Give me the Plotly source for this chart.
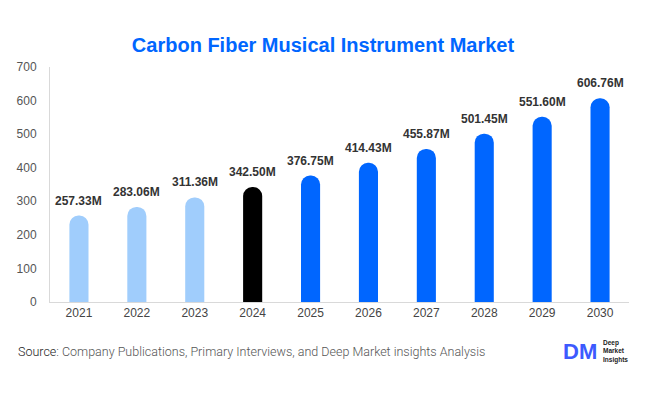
import plotly.graph_objects as go

years = ["2021", "2022", "2023", "2024", "2025", "2026", "2027", "2028", "2029", "2030"]
values = [257.33, 283.06, 311.36, 342.50, 376.75, 414.43, 455.87, 501.45, 551.60, 606.76]
labels = ["257.33M", "283.06M", "311.36M", "342.50M", "376.75M", "414.43M", "455.87M", "501.45M", "551.60M", "606.76M"]
colors = ["#a0cdfc"] * 3 + ["#000000"] + ["#0066ff"] * 6

fig = go.Figure()
fig.add_trace(go.Bar(x=years, y=values, marker=dict(color=colors, line=dict(width=0)),
                     width=0.33, hoverinfo="skip"))

for i, (v, t) in enumerate(zip(values, labels)):
    fig.add_annotation(x=i, y=v, text="<b>" + t + "</b>", showarrow=False,
                       yanchor="bottom", yshift=6,
                       font=dict(family="Liberation Sans, Arial", size=12, color="#333333"))

fig.add_annotation(xref="paper", yref="paper", x=-0.0587, y=0, yshift=-49, xanchor="left", yanchor="middle",
                   text="<span style='color:#222'>Source</span>: Company Publications, Primary Interviews, and Deep Market insights Analysis",
                   showarrow=False, font=dict(family="Roboto, Open Sans", size=12.5, color="#555555", weight=300))

fig.add_annotation(xref="paper", yref="paper", x=0.916, y=0, yshift=-49, xanchor="center", yanchor="middle",
                   text="<b>DM</b>", showarrow=False,
                   font=dict(family="Liberation Sans, Arial", size=22, color="#3d5afe"))
fig.add_annotation(xref="paper", yref="paper", x=0.951, y=0, yshift=-49, xanchor="left", yanchor="middle",
                   text="<b>Deep<br>Market<br>Insights</b>", showarrow=False, align="left",
                   font=dict(family="Liberation Sans, Arial", size=6.5, color="#222222"))

fig.update_layout(
    width=646, height=394,
    margin=dict(l=50, r=17, t=67, b=92),
    plot_bgcolor="white", paper_bgcolor="white",
    title=dict(text="<b>Carbon Fiber Musical Instrument Market</b>", x=0.5, xanchor="center",
               y=1 - 45 / 394, yanchor="middle", yref="container",
               font=dict(family="Liberation Sans, Arial", size=20, color="#0066ff")),
    barcornerradius=10,
    showlegend=False,
    xaxis=dict(type="category", range=[-0.5, 9.5], showline=True, linecolor="#d9d9d9", linewidth=1, ticks="",
               tickfont=dict(family="Liberation Sans, Arial", size=12, color="#444444"),
               showgrid=False),
    yaxis=dict(range=[0, 700], dtick=100, showline=True, linecolor="#d9d9d9", linewidth=1,
               showgrid=False, zeroline=False, ticks="", ticklabelstandoff=10,
               tickfont=dict(family="Liberation Sans, Arial", size=12, color="#555555")),
)

fig.write_html("out.html", config={"displayModeBar": False},
               post_script="document.body.style.margin='0';")
